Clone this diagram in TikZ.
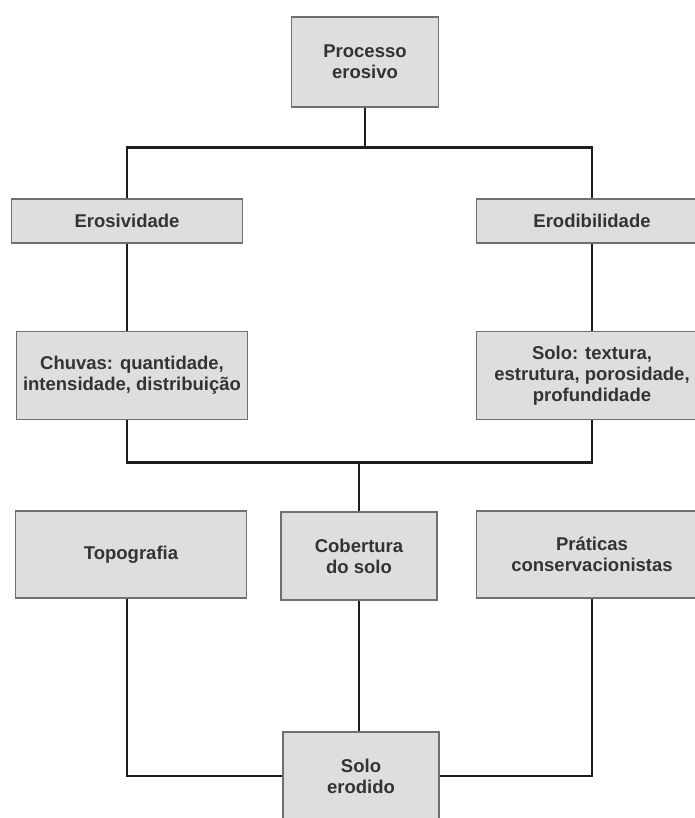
\documentclass[tikz,border=0pt]{standalone}
\usepackage{fontspec}
\setmainfont{Liberation Sans}
\definecolor{boxfill}{HTML}{DEDEDE}
\definecolor{boxedge}{HTML}{707070}
\definecolor{linkdark}{HTML}{1E1E1E}
\definecolor{labelgray}{HTML}{333333}
\tikzset{
  box/.style={draw=boxedge, fill=boxfill, line width=1.4pt, align=center, text=labelgray,
    font=\fontsize{18.5}{21}\selectfont\bfseries, inner sep=0pt},
  widebox/.style={box, minimum width=231pt},
  narrowbox/.style={box, minimum width=156pt, minimum height=88pt},
  link/.style={draw=linkdark, line width=2.6pt},
}

\begin{document}
\begin{tikzpicture}[x=1pt, y=-1pt]
\useasboundingbox (0,0) rectangle (695,818);
\node (proc) [narrowbox, minimum width=147pt, minimum height=90pt] at (365,62) {Processo\\erosivo};
\node (eros) [widebox, minimum height=44pt] at (127,221) {Erosividade};
\node (erod) [widebox, minimum height=44pt] at (592,221) {Erodibilidade};
\node (chuva) [widebox, minimum height=88pt] at (132,375.5) {Chuvas: quantidade,\\intensidade, distribuição};
\node (solo) [widebox, minimum height=88pt] at (592,375.5) {Solo: textura,\\estrutura, porosidade,\\profundidade};
\node (topo) [widebox, minimum height=87pt] at (131,554.5) {Topografia};
\node (cober) [narrowbox] at (359,556) {Cobertura\\do solo};
\node (prat) [widebox, minimum height=87pt] at (592,554.5) {Práticas\\conservacionistas};
\node (erodido) [narrowbox] at (361,776) {Solo\\erodido};
\draw[link] (proc.south) -- ++(0,40) coordinate (split);
\draw[link] (eros.north) |- (split) -| (erod.north);
\draw[link] (eros.south) -- (eros.south |- chuva.north);
\draw[link] (erod.south) -- (solo.north);
\draw[link] (cober.north) -- ++(0,-49) coordinate (join);
\draw[link] (eros.south |- chuva.south) |- (join) -| (solo.south);
\draw[link] (eros.south |- topo.south) |- (erodido.west);
\draw[link] (prat.south) |- (erodido.east);
\draw[link] (cober.south) -- (cober.south |- erodido.north);
\end{tikzpicture}
\end{document}
